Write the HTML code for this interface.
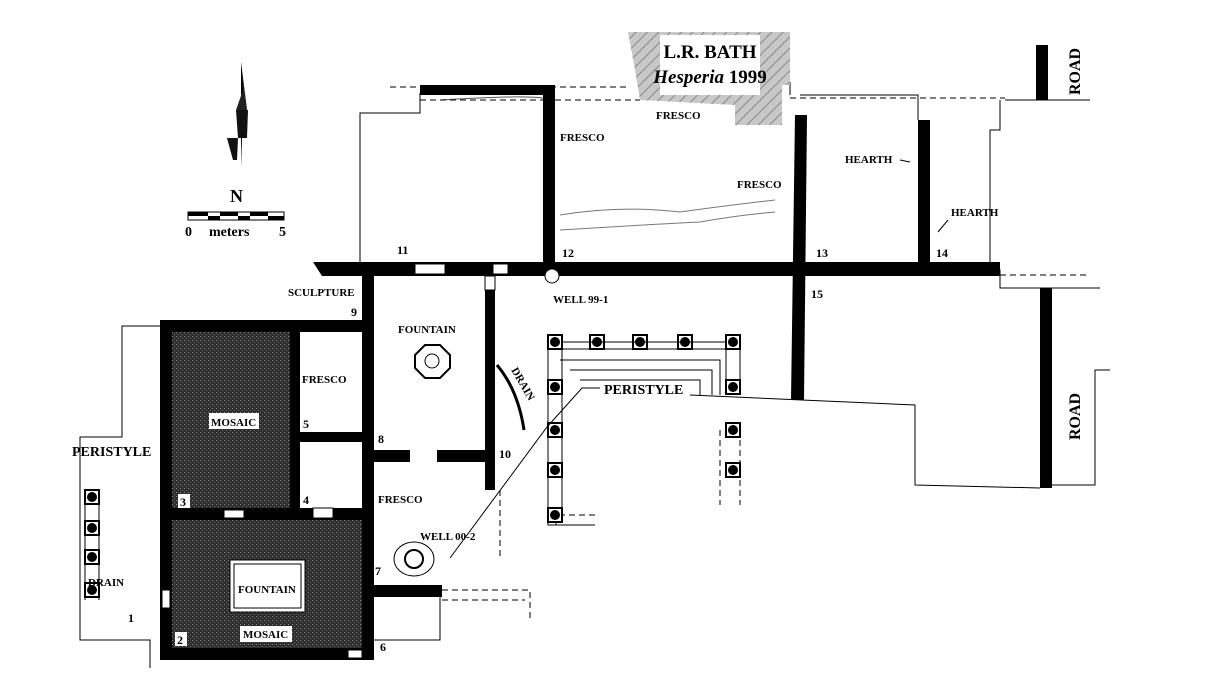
<!DOCTYPE html>
<html><head><meta charset="utf-8"><style>
html,body{margin:0;padding:0;background:#fff;}
svg{display:block;}
text{font-family:"Liberation Serif",serif;font-weight:bold;fill:#000;}
</style></head><body>
<svg width="1206" height="682" viewBox="0 0 1206 682" xmlns="http://www.w3.org/2000/svg">
<defs>
<pattern id="mos" width="4" height="4" patternUnits="userSpaceOnUse">
<rect width="4" height="4" fill="#2e2e2e"/><rect width="1" height="1" fill="#8a8a8a"/><rect x="2" y="2" width="1" height="1" fill="#6a6a6a"/>
</pattern>
<pattern id="hatch" width="8" height="8" patternUnits="userSpaceOnUse" patternTransform="rotate(45)">
<rect width="8" height="8" fill="#c8c8c8"/><line x1="0" y1="0" x2="0" y2="8" stroke="#888" stroke-width="2"/>
</pattern>
</defs>

<!-- thin outlines -->
<g fill="none" stroke="#000" stroke-width="1">
<path d="M160,326 L122,326 L122,437 L80,437 L80,640 L150,640 L150,668"/>
<path d="M420,93 L420,113 L360,113 L360,262"/>
<path d="M690,395 L915,405 L915,485 L1040,488"/>
<path d="M1000,100 L1000,130 L990,130 L990,270 L1000,270 L1000,288 L1100,288"/>
<path d="M1005,100 L1090,100"/>
<path d="M1052,485 L1095,485 L1095,370 L1110,370"/>
<path d="M548,505 L548,525 L595,525"/>
<path d="M372,597 L372,640 L440,640 L440,597"/>
<path d="M560,360 L720,360 L720,395"/>
<path d="M570,370 L712,370 L712,395"/>
<path d="M580,380 L700,380 L700,395"/>
<path d="M790,95 L790,82 M800,95 L918,95 L918,120"/>
<path d="M560,215 Q620,205 680,212 Q730,205 775,200 M560,230 Q640,225 700,222 Q740,215 775,212" stroke="#777"/>
<path d="M440,100 Q520,95 543,98" stroke="#555"/>
</g>
<g fill="none" stroke="#000" stroke-width="1" stroke-dasharray="6,4">
<path d="M390,87 L628,87"/>
<path d="M420,100 L543,100 M555,100 L640,100"/>
<path d="M790,98 L1005,98"/>
<path d="M1000,275 L1090,275"/>
<path d="M442,590 L530,590 L530,620 M442,600 L525,600"/>
<path d="M500,490 L500,560 M556,525 L556,505 M595,515 L560,515"/>
<path d="M720,430 L720,505 M740,430 L740,505"/>
</g>

<!-- bath -->
<path d="M628,32 L790,32 L790,85 L782,85 L782,125 L735,125 L735,105 L640,100 L635,70 Z" fill="url(#hatch)"/>
<rect x="660" y="35" width="100" height="60" fill="#fff"/>
<text x="710" y="58" font-size="19" text-anchor="middle">L.R. BATH</text>
<text x="710" y="83" font-size="19" text-anchor="middle"><tspan font-style="italic">Hesperia</tspan> 1999</text>

<!-- mosaic rooms -->
<rect x="172" y="332" width="118" height="176" fill="url(#mos)"/>
<rect x="172" y="520" width="190" height="128" fill="url(#mos)"/>

<!-- walls -->
<g fill="#000">
<rect x="160" y="320" width="212" height="12"/>
<rect x="160" y="320" width="12" height="340"/>
<rect x="160" y="648" width="214" height="12"/>
<rect x="160" y="508" width="212" height="12"/>
<rect x="290" y="320" width="10" height="200"/>
<rect x="290" y="432" width="82" height="10"/>
<rect x="362" y="268" width="12" height="392"/>
<polygon points="313,262 1000,262 1000,276 322,276"/>
<rect x="485" y="290" width="10" height="200"/>
<rect x="372" y="450" width="38" height="12"/>
<rect x="437" y="450" width="58" height="12"/>
<rect x="372" y="585" width="70" height="12"/>
<rect x="543" y="85" width="12" height="185"/>
<rect x="420" y="85" width="135" height="10"/>
<polygon points="795,115 807,115 804,400 791,400"/>
<rect x="918" y="120" width="12" height="145"/>
<rect x="1036" y="45" width="12" height="55"/>
<rect x="1040" y="288" width="12" height="200"/>
</g>
<!-- gaps -->
<g fill="#fff" stroke="#000" stroke-width="1">
<rect x="415" y="264" width="30" height="10"/>
<rect x="493" y="264" width="15" height="10"/>
<rect x="485" y="276" width="10" height="14"/>
<rect x="224" y="510" width="20" height="8"/>
<rect x="313" y="508" width="20" height="10"/>
<rect x="162" y="590" width="8" height="18"/>
<rect x="348" y="650" width="14" height="8"/>
<circle cx="552" cy="276" r="7"/>
</g>

<!-- columns -->
<g>
<g fill="#fff" stroke="#000" stroke-width="2">
<rect x="548" y="335" width="14" height="14"/><rect x="590" y="335" width="14" height="14"/><rect x="633" y="335" width="14" height="14"/><rect x="678" y="335" width="14" height="14"/><rect x="726" y="335" width="14" height="14"/>
<rect x="548" y="380" width="14" height="14"/><rect x="548" y="423" width="14" height="14"/><rect x="548" y="463" width="14" height="14"/><rect x="548" y="508" width="14" height="14"/>
<rect x="726" y="380" width="14" height="14"/><rect x="726" y="423" width="14" height="14"/><rect x="726" y="463" width="14" height="14"/>
<rect x="85" y="490" width="14" height="14"/><rect x="85" y="521" width="14" height="14"/><rect x="85" y="550" width="14" height="14"/><rect x="85" y="583" width="14" height="14"/>
</g>
<g fill="#000">
<circle cx="555" cy="342" r="5"/><circle cx="597" cy="342" r="5"/><circle cx="640" cy="342" r="5"/><circle cx="685" cy="342" r="5"/><circle cx="733" cy="342" r="5"/>
<circle cx="555" cy="387" r="5"/><circle cx="555" cy="430" r="5"/><circle cx="555" cy="470" r="5"/><circle cx="555" cy="515" r="5"/>
<circle cx="733" cy="387" r="5"/><circle cx="733" cy="430" r="5"/><circle cx="733" cy="470" r="5"/>
<circle cx="92" cy="497" r="5"/><circle cx="92" cy="528" r="5"/><circle cx="92" cy="557" r="5"/><circle cx="92" cy="590" r="5"/>
</g>
<path d="M562,342 L726,342 M562,349 L726,349" stroke="#000"/>
<path d="M548,349 L548,508 M562,349 L562,508 M726,349 L726,380 M740,349 L740,380" stroke="#000" fill="none"/>
<path d="M85,504 L85,600 M99,504 L99,600" stroke="#000"/>
</g>

<!-- fountain details -->
<polygon points="425,345 440,345 450,355 450,368 440,378 425,378 415,368 415,355" fill="none" stroke="#000" stroke-width="2"/>
<circle cx="432" cy="361" r="7" fill="none" stroke="#000"/>
<ellipse cx="414" cy="559" rx="20" ry="17" fill="none" stroke="#000"/>
<circle cx="414" cy="559" r="9" fill="none" stroke="#000" stroke-width="2"/>
<rect x="230" y="560" width="75" height="52" fill="#fff" stroke="#000"/>
<rect x="234" y="564" width="67" height="44" fill="none" stroke="#000"/>
<path d="M497,365 Q518,390 524,430" stroke="#000" stroke-width="3" fill="none"/>

<!-- leader lines -->
<path d="M450,558 L547,427 L582,388 L600,388" stroke="#000" fill="none"/>
<path d="M900,160 L910,162 M938,232 L948,220" stroke="#000"/>

<!-- labels -->
<g font-size="11">
<text x="560" y="141">FRESCO</text>
<text x="656" y="119">FRESCO</text>
<text x="737" y="188">FRESCO</text>
<text x="845" y="163">HEARTH</text>
<text x="951" y="216">HEARTH</text>
<text x="553" y="303">WELL 99-1</text>
<text x="288" y="296">SCULPTURE</text>
<text x="398" y="333">FOUNTAIN</text>
<text x="302" y="383">FRESCO</text>
<text x="378" y="503">FRESCO</text>
<text x="420" y="540">WELL 00-2</text>
<text x="88" y="586">DRAIN</text>
<text x="238" y="593">FOUNTAIN</text>
<text x="243" y="637" fill="#fff" font-size="11">MOSAIC</text>
</g>
<rect x="209" y="413" width="50" height="16" fill="#fff"/>
<text x="211" y="426" font-size="11">MOSAIC</text>
<rect x="240" y="626" width="52" height="16" fill="#fff"/>
<text x="243" y="638" font-size="11">MOSAIC</text>
<text x="511" y="370" font-size="11" transform="rotate(60 511 370)">DRAIN</text>
<text x="604" y="394" font-size="14">PERISTYLE</text>
<text x="72" y="456" font-size="14">PERISTYLE</text>
<text x="1080" y="95" font-size="16" transform="rotate(-90 1080 95)">ROAD</text>
<text x="1080" y="440" font-size="16" transform="rotate(-90 1080 440)">ROAD</text>

<g font-size="12">
<text x="128" y="622" font-weight="normal">1</text>
<rect x="175" y="632" width="12" height="14" fill="#fff"/><text x="177" y="644">2</text>
<rect x="178" y="494" width="12" height="14" fill="#fff"/><text x="180" y="506">3</text>
<text x="303" y="504">4</text>
<text x="303" y="428">5</text>
<text x="380" y="651">6</text>
<text x="375" y="575">7</text>
<text x="378" y="443">8</text>
<text x="351" y="316">9</text>
<text x="499" y="458">10</text>
<text x="397" y="254" font-weight="normal">11</text>
<text x="562" y="257">12</text>
<text x="816" y="257">13</text>
<text x="936" y="257">14</text>
<text x="811" y="298">15</text>
</g>

<!-- north arrow -->
<polygon points="241,62 247,110 243,108 241,168" fill="#000"/>
<polygon points="241,62 243,90 236,110 247,110" fill="#222"/>
<polygon points="227,138 238,138 237,160 233,160" fill="#111"/>
<polygon points="236,110 248,110 247,138 238,138" fill="#111"/>
<text x="230" y="202" font-size="18" font-weight="normal">N</text>
<rect x="188" y="212" width="96" height="8" fill="#fff" stroke="#000"/>
<g fill="#000"><rect x="188" y="212" width="20" height="4"/><rect x="208" y="216" width="12" height="4"/><rect x="220" y="212" width="18" height="4"/><rect x="238" y="216" width="12" height="4"/><rect x="250" y="212" width="18" height="4"/><rect x="268" y="216" width="16" height="4"/></g>
<text x="185" y="236" font-size="14">0</text>
<text x="209" y="236" font-size="14">meters</text>
<text x="279" y="236" font-size="14">5</text>
</svg>
</body></html>
